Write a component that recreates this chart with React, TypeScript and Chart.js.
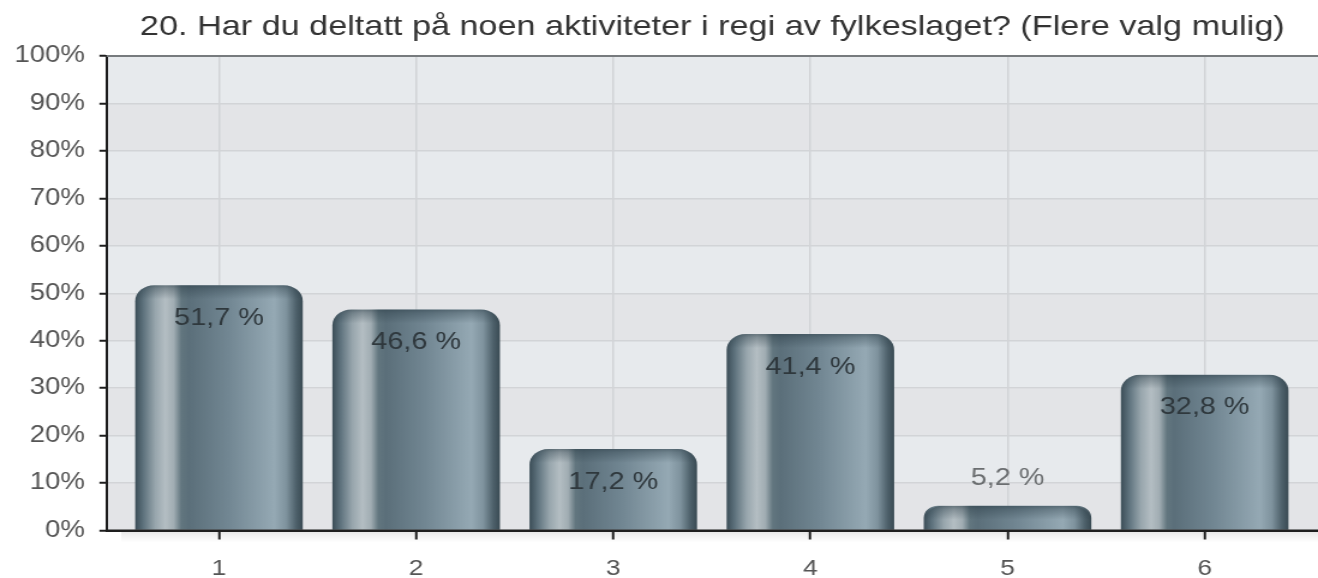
import React, { useEffect, useRef } from 'react';
import { Chart, registerables } from 'chart.js';

Chart.register(...registerables);

// ---- data ----
const TITLE = '20. Har du deltatt på noen aktiviteter i regi av fylkeslaget? (Flere valg mulig)';
const CATEGORIES = ['1', '2', '3', '4', '5', '6'];
const VALUES = [51.7, 46.6, 17.2, 41.4, 5.2, 32.8];
const Y_TICKS = [0, 10, 20, 30, 40, 50, 60, 70, 80, 90, 100];

// ---- presentation ----
const FONT = '"Liberation Sans", Arial, Helvetica, sans-serif';
const OUT_W = 1318;
const OUT_H = 578;
const STRETCH = 1.2;
const W = Math.round(OUT_W / STRETCH);
const BAR_PCT = 0.85;
const X_MIN = 0.43;
const X_MAX = 6.575;
const RADIUS = 16;

const fmt = (v: number) => v.toFixed(1).replace('.', ',') + ' %';

function barFill(ctx: any) {
  const chart = ctx.chart;
  const xs = chart.scales && chart.scales.x;
  if (!xs || ctx.type !== 'data' || !ctx.raw) return '#6e838e';
  const cx = xs.getPixelForValue(ctx.raw.x);
  const step = Math.abs(xs.getPixelForValue(ctx.raw.x + 1) - cx);
  const half = (step * BAR_PCT) / 2;
  if (!isFinite(cx) || !isFinite(half) || half <= 0) return '#6e838e';
  const g = chart.ctx.createLinearGradient(cx - half, 0, cx + half, 0);
  g.addColorStop(0, '#3b4d57');
  g.addColorStop(0.05, '#5f737e');
  g.addColorStop(0.12, '#98a6ad');
  g.addColorStop(0.18, '#b4bec3');
  g.addColorStop(0.23, '#a1adb3');
  g.addColorStop(0.275, '#62767f');
  g.addColorStop(0.32, '#5b6f7a');
  g.addColorStop(0.55, '#718692');
  g.addColorStop(0.83, '#95a9b4');
  g.addColorStop(0.9, '#7f939e');
  g.addColorStop(0.96, '#4e616b');
  g.addColorStop(1, '#394a53');
  return g;
}

const backgroundPlugin = {
  id: 'bands',
  beforeDraw(chart: any) {
    const { ctx, chartArea, scales } = chart;
    const { left, right, bottom } = chartArea;
    const y = scales.y;
    ctx.save();
    for (let i = 0; i < Y_TICKS.length - 1; i++) {
      const y0 = y.getPixelForValue(Y_TICKS[i]);
      const y1 = y.getPixelForValue(Y_TICKS[i + 1]);
      ctx.fillStyle = i % 2 === 0 ? '#e3e4e7' : '#e7eaed';
      ctx.fillRect(left, y1, right - left, y0 - y1);
    }
    // soft shadow under the x axis
    const g = ctx.createLinearGradient(0, bottom, 0, bottom + 12);
    g.addColorStop(0, 'rgba(0,0,0,0.10)');
    g.addColorStop(1, 'rgba(0,0,0,0)');
    ctx.fillStyle = g;
    ctx.fillRect(left + 12, bottom, right - left - 12, 12);
    ctx.restore();
  },
};

const overlayPlugin = {
  id: 'overlay',
  afterDatasetsDraw(chart: any) {
    const { ctx, chartArea } = chart;
    const meta = chart.getDatasetMeta(0);
    const data = chart.data.datasets[0].data as any[];
    ctx.save();
    // cylinder caps
    meta.data.forEach((el: any) => {
      const { x, y, base, width } = el.getProps(['x', 'y', 'base', 'width'], true);
      const l = x - width / 2;
      const r = x + width / 2;
      const h = base - y;
      const rad = Math.min(RADIUS, h, width / 2);
      ctx.save();
      ctx.beginPath();
      ctx.moveTo(l, base);
      ctx.lineTo(l, y + rad);
      ctx.arcTo(l, y, l + rad, y, rad);
      ctx.lineTo(r - rad, y);
      ctx.arcTo(r, y, r, y + rad, rad);
      ctx.lineTo(r, base);
      ctx.closePath();
      ctx.clip();
      const g = ctx.createLinearGradient(0, y, 0, y + 14);
      g.addColorStop(0, 'rgba(40,58,68,0.55)');
      g.addColorStop(0.25, 'rgba(40,58,68,0.35)');
      g.addColorStop(1, 'rgba(40,58,68,0)');
      ctx.fillStyle = g;
      ctx.fillRect(l, y, width, 14);
      ctx.restore();
    });
    // axis lines on top of the bars
    ctx.strokeStyle = '#1e1e1e';
    ctx.lineWidth = 2;
    ctx.beginPath();
    ctx.moveTo(chartArea.left, chartArea.bottom);
    ctx.lineTo(chartArea.right, chartArea.bottom);
    ctx.stroke();
    ctx.strokeStyle = '#777b7e';
    ctx.beginPath();
    ctx.moveTo(chartArea.left, chartArea.top);
    ctx.lineTo(chartArea.right, chartArea.top);
    ctx.stroke();
    // value labels
    ctx.font = `24px ${FONT}`;
    ctx.textAlign = 'center';
    ctx.textBaseline = 'middle';
    meta.data.forEach((el: any, i: number) => {
      const { x, y, base } = el.getProps(['x', 'y', 'base'], true);
      const inside = base - y > 50;
      ctx.fillStyle = inside ? '#2f383d' : '#6b6e70';
      ctx.fillText(fmt(data[i].y), x, inside ? y + 33 : y - 27);
    });
    ctx.restore();
  },
};

export default function App() {
  const canvasRef = useRef<HTMLCanvasElement | null>(null);

  useEffect(() => {
    const canvas = canvasRef.current;
    if (!canvas) return;
    const chart = new Chart(canvas, {
      type: 'bar',
      data: {
        datasets: [
          {
            data: VALUES.map((v, i) => ({ x: i + 1, y: v })),
            backgroundColor: barFill,
            borderWidth: 0,
            borderRadius: { topLeft: RADIUS, topRight: RADIUS, bottomLeft: 0, bottomRight: 0 },
            borderSkipped: false,
            barPercentage: BAR_PCT,
            categoryPercentage: 1,
          },
        ],
      },
      options: {
        animation: false,
        responsive: false,
        devicePixelRatio: 1,
        layout: { padding: { left: 0, right: 0, top: 0, bottom: -19.5 } },
        plugins: {
          legend: { display: false },
          tooltip: { enabled: false },
          title: {
            display: true,
            text: TITLE,
            fullSize: false,
            align: 'center',
            color: '#333333',
            font: { family: FONT, size: 28.5, weight: 'normal' },
            padding: { top: 10, bottom: 11.8 },
          },
        },
        scales: {
          x: {
            type: 'linear',
            min: X_MIN,
            max: X_MAX,
            offset: false,
            afterBuildTicks: (scale: any) => {
              scale.ticks = CATEGORIES.map((_, i) => ({ value: i + 1 }));
            },
            ticks: {
              callback: (value: any) => CATEGORIES[Math.round(Number(value)) - 1] ?? '',
              color: '#555555',
              font: { family: FONT, size: 22 },
              padding: 15.8,
              maxRotation: 0,
              autoSkip: false,
            },
            grid: {
              offset: false,
              color: '#d2d4d7',
              lineWidth: 1.5,
              tickLength: 9,
              tickColor: '#1e1e1e',
              tickWidth: 2,
            },
            border: { display: true, color: '#1e1e1e', width: 2 },
          },
          y: {
            min: 0,
            max: 100,
            afterBuildTicks: (scale: any) => {
              scale.ticks = Y_TICKS.map((v) => ({ value: v }));
            },
            ticks: {
              callback: (value: any) => `${value}%`,
              color: '#555555',
              font: { family: FONT, size: 23 },
              padding: 12,
            },
            grid: {
              color: '#d2d4d7',
              lineWidth: 1.5,
              tickLength: 6,
              tickColor: '#1e1e1e',
              tickWidth: 2,
            },
            border: { display: true, color: '#1e1e1e', width: 2 },
          },
        },
      } as any,
      plugins: [backgroundPlugin, overlayPlugin],
    });
    return () => chart.destroy();
  }, []);

  return (
    <div style={{ position: 'absolute', left: 0, top: 0, width: OUT_W, height: OUT_H, background: '#ffffff' }}>
      <canvas
        ref={canvasRef}
        width={W}
        height={OUT_H}
        style={{ width: `${OUT_W}px`, height: `${OUT_H}px`, display: 'block' }}
      />
    </div>
  );
}
